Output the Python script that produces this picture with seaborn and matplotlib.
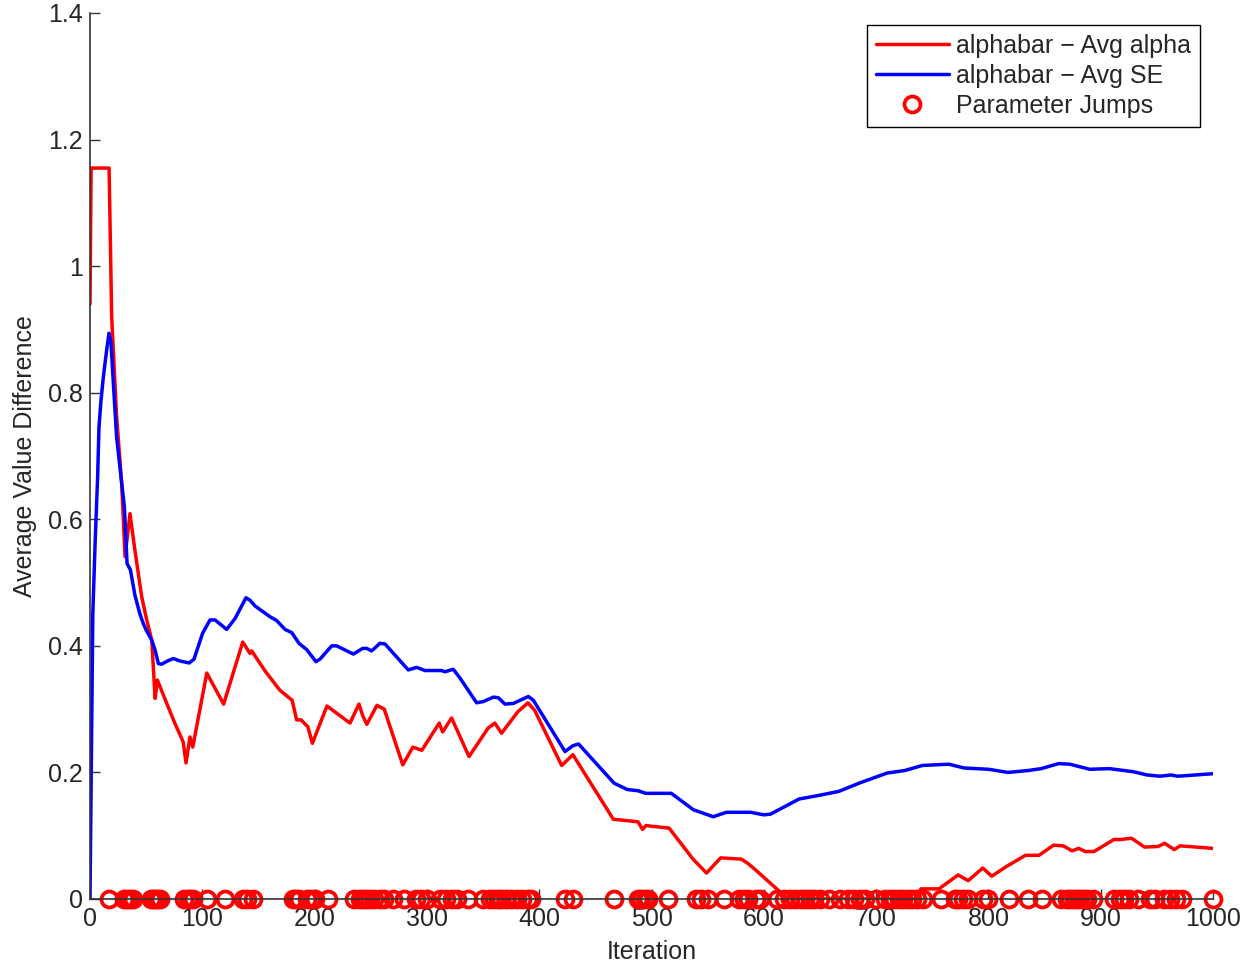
import numpy as np
import pandas as pd
import matplotlib
matplotlib.use("Agg")
import matplotlib.pyplot as plt
import seaborn as sns

# alphabar - Avg alpha (red)
alpha_x = [0, 1, 17, 19.3, 23.7, 28.2, 31.2, 35.6, 40, 46, 50.5, 55, 58, 60, 67, 75, 83,
           85.5, 89, 91.5, 104, 119, 136, 142.5, 144, 156, 169, 180, 184, 188, 194, 198,
           211, 231.5, 239.5, 243, 246.5, 255.5, 262, 278.5, 287.5, 295.5, 311, 314, 322,
           337.5, 354.5, 360.5, 366.5, 381, 390, 396, 420, 430, 466, 488, 492, 495, 515.7,
           537, 549, 561.6, 580, 586, 592, 614, 617, 735, 740, 756, 773, 782, 795, 803,
           815.7, 833, 845, 858, 866.7, 874.5, 880.4, 886.3, 894, 911.8, 917.6, 927.5, 939,
           951, 957, 965.5, 970.6, 1000]
alpha_y = [0.94, 1.155, 1.155, 0.92, 0.762, 0.657, 0.541, 0.609, 0.551, 0.478, 0.441, 0.409,
           0.317, 0.346, 0.315, 0.28, 0.248, 0.215, 0.256, 0.24, 0.357, 0.308, 0.406, 0.388,
           0.392, 0.36, 0.33, 0.314, 0.283, 0.283, 0.272, 0.246, 0.305, 0.278, 0.308, 0.289,
           0.276, 0.306, 0.30, 0.212, 0.24, 0.235, 0.278, 0.264, 0.286, 0.225, 0.27, 0.278,
           0.262, 0.296, 0.31, 0.298, 0.211, 0.228, 0.126, 0.122, 0.110, 0.116, 0.112, 0.063,
           0.041, 0.065, 0.063, 0.056, 0.047, 0.012, 0.0, 0.0, 0.016, 0.016, 0.038, 0.029,
           0.049, 0.036, 0.051, 0.069, 0.069, 0.085, 0.084, 0.076, 0.080, 0.075, 0.075, 0.094,
           0.094, 0.096, 0.082, 0.083, 0.088, 0.078, 0.084, 0.080]

# alphabar - Avg SE (blue)
se_x = [0, 2.5, 4.5, 6.8, 8, 9.8, 11.9, 14.8, 16.9, 18.7, 20.8, 23.7, 27.6, 30.6, 33, 36,
        40, 44.5, 47.5, 50, 55, 58, 60.9, 63.8, 68.9, 74.2, 80.1, 88.4, 92.6, 100.3, 106.9,
        111.3, 121.7, 129.1, 138.9, 142.5, 147, 160.3, 166.2, 173.6, 179.6, 186.1, 193,
        201.2, 204.8, 215.2, 219.6, 234.5, 242.8, 246.4, 250.8, 258.2, 262.7, 283.4, 290.9,
        298.3, 313.1, 316, 323.5, 329.5, 344.3, 350.3, 359.2, 363.6, 369.5, 377, 383, 390.3,
        394.8, 423, 429.8, 435, 466.7, 478.4, 488.2, 494.9, 517.6, 537.3, 555, 566.7, 588.2,
        600, 605.9, 631.4, 647, 666.7, 686.3, 709.8, 725.5, 741.2, 764.7, 778.4, 800, 817.6,
        835.3, 847, 862.7, 872.5, 890.2, 907.8, 929.4, 941.2, 952.9, 962.7, 968.6, 984.3, 1000]
se_y = [0.0, 0.45, 0.56, 0.667, 0.746, 0.788, 0.825, 0.867, 0.894, 0.878, 0.815, 0.73, 0.667,
        0.62, 0.53, 0.52, 0.48, 0.45, 0.435, 0.425, 0.409, 0.393, 0.372, 0.371, 0.376, 0.380,
        0.376, 0.373, 0.379, 0.420, 0.441, 0.441, 0.426, 0.443, 0.476, 0.472, 0.463, 0.446,
        0.440, 0.426, 0.421, 0.404, 0.394, 0.375, 0.379, 0.400, 0.400, 0.387, 0.396, 0.396,
        0.392, 0.404, 0.403, 0.362, 0.366, 0.361, 0.361, 0.359, 0.363, 0.349, 0.310, 0.312,
        0.319, 0.318, 0.308, 0.309, 0.314, 0.320, 0.314, 0.233, 0.242, 0.245, 0.183, 0.173,
        0.171, 0.167, 0.167, 0.141, 0.130, 0.137, 0.137, 0.133, 0.134, 0.158, 0.163, 0.170,
        0.184, 0.199, 0.203, 0.211, 0.213, 0.207, 0.205, 0.200, 0.203, 0.206, 0.214, 0.213,
        0.205, 0.206, 0.201, 0.196, 0.194, 0.196, 0.194, 0.196, 0.198]

# iterations where the parameters jumped
jumps = [17, 30, 33, 36, 38, 54, 56, 58, 60, 62, 84, 87, 89, 92, 104, 120, 136, 140, 145,
         181, 183, 186, 193, 197, 200, 212, 235, 240, 243, 246, 249, 253, 258, 262, 270,
         280, 290, 295, 300, 312, 317, 322, 327, 337, 350, 356, 360, 363, 366, 370, 375,
         380, 385, 390, 393, 423, 430, 467, 488, 491, 494, 497, 515, 540, 544, 550, 565,
         578, 582, 586, 593, 597, 612, 618, 623, 628, 633, 637, 641, 645, 650, 658, 668,
         675, 680, 686, 690, 700, 708, 712, 716, 720, 724, 728, 732, 736, 742, 758, 770,
         773, 777, 782, 795, 800, 818, 835, 848, 865, 870, 873, 876, 879, 882, 885, 888,
         893, 912, 917, 921, 925, 933, 944, 948, 956, 962, 967, 972, 1000]

y_ticks = [0, 0.2, 0.4, 0.6, 0.8, 1.0, 1.2, 1.4]
y_labels = ["0", "0.2", "0.4", "0.6", "0.8", "1", "1.2", "1.4"]
x_ticks = [0, 100, 200, 300, 400, 500, 600, 700, 800, 900, 1000]

sns.set_style("ticks")
plt.rcParams["font.family"] = ["Liberation Sans", "DejaVu Sans"]
plt.rcParams["xtick.direction"] = "in"
plt.rcParams["ytick.direction"] = "in"

fig = plt.figure(figsize=(12.51, 9.66), dpi=100)
ax = fig.add_axes([90 / 1251, 67 / 966, 1123 / 1251, 886 / 966])

sns.lineplot(x=alpha_x, y=alpha_y, ax=ax, color="#ff0000", linewidth=2.5,
             estimator=None, sort=False, label="alphabar \u2212 Avg alpha")
sns.lineplot(x=se_x, y=se_y, ax=ax, color="#0000ff", linewidth=2.5,
             estimator=None, sort=False, label="alphabar \u2212 Avg SE")
sns.lineplot(x=jumps, y=np.zeros(len(jumps)), ax=ax, estimator=None, linestyle="",
             marker="o", markersize=11.5, markerfacecolor="none", markeredgecolor="#ff0000",
             markeredgewidth=2.7, label="Parameter Jumps", clip_on=False)

ax.set_xlim(0, 1000)
ax.set_ylim(0, 1.4)
ax.set_xticks(x_ticks)
ax.set_yticks(y_ticks)
ax.set_yticklabels(y_labels)
ax.tick_params(labelsize=18, length=7, width=1, color="#333333")
ax.tick_params(axis="x", pad=6)
ax.tick_params(axis="y", pad=5)
for side in ["top", "right"]:
    ax.spines[side].set_visible(False)
for side in ["left", "bottom"]:
    ax.spines[side].set_color("#333333")
    ax.spines[side].set_linewidth(1.2)

ax.set_xlabel("Iteration", fontsize=18, labelpad=6)
ax.set_ylabel("Average Value Difference", fontsize=18, labelpad=8)

leg = ax.legend(loc="upper right", bbox_to_anchor=(0.9884, 0.9865), borderaxespad=0,
                fontsize=18, frameon=True, fancybox=False, numpoints=1,
                handlelength=2.9, handletextpad=0.3, borderpad=0.35, labelspacing=0.25)
leg.get_frame().set_edgecolor("black")
leg.get_frame().set_linewidth(1.0)
leg.get_frame().set_alpha(1)

fig.savefig("out.png", dpi=100)
